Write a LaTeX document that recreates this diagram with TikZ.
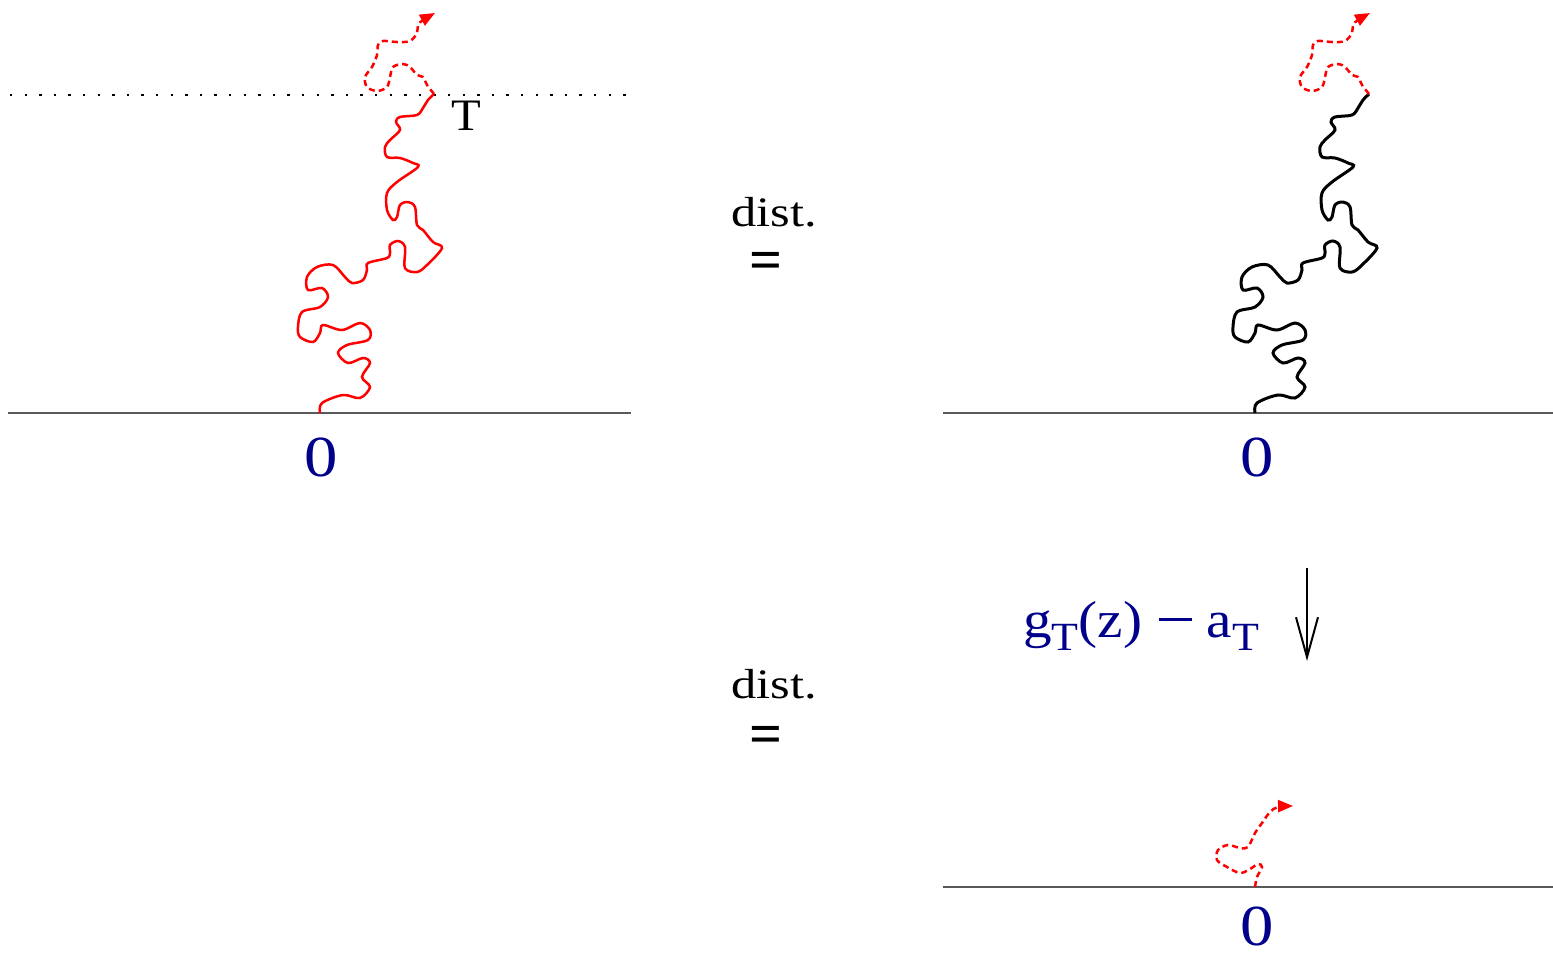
\documentclass[tikz,border=0pt]{standalone}
\usepackage{fontspec}
\setmainfont{Liberation Serif}
\usetikzlibrary{arrows.meta}
\definecolor{zeroblue}{RGB}{0,0,139}
\newcommand{\subT}{\raisebox{-0.25em}{\fontsize{20}{20}\selectfont T}}
\newcommand{\minussign}{\hspace{0.3em}\rule[0.3em]{0.58em}{0.06em}\hspace{0.25em}}

\begin{document}
\begin{tikzpicture}[
  x=0.5pt, y=-0.5pt,
  axis/.style={draw=black!65, line width=1pt},
  level/.style={line width=1.2pt, dash pattern=on 1.2pt off 6.1pt},
  walkred/.style={red, line width=1.25pt},
  walkblack/.style={black, line width=1.5pt},
  future/.style={red, line width=1.25pt, dash pattern=on 3pt off 2pt,
    -{Triangle[length=7.5pt,width=6pt]}},
  zerolbl/.style={text=zeroblue, font=\fontsize{29}{29}\selectfont, xscale=1.15, inner sep=0pt, anchor=base},
  distlbl/.style={font=\fontsize{21}{21}\selectfont, xscale=1.2, inner sep=0pt, anchor=base},
  eqlbl/.style={font=\fontsize{29}{29}\selectfont\bfseries, inner sep=0pt},
  maplbl/.style={text=zeroblue, font=\fontsize{26}{26}\selectfont, xscale=1.1, inner sep=0pt, anchor=base},
  arr/.style={-{Straight Barb[length=20pt,width=11pt]}, line width=1pt}
]
\useasboundingbox (0,0) rectangle (1553,953);

% half planes
\draw[axis] (8,413) -- (631,413);
\draw[axis] (943,413) -- (1553,413);
\draw[axis] (943,887) -- (1553,887);
\draw[level] (10,95) -- (631,95);

% the trace, left in red and right in black
\foreach \dx/\wstyle in {0/walkred, 935/walkblack}{
  \begin{scope}[xshift=\dx*0.5pt]
    \draw[\wstyle] plot[smooth, tension=0.55] coordinates {
      (320,413) (322,403) (343,395) (360,398) (370,387) (362,377) (370,363)
      (363,358) (348,363) (338,353) (347,345) (368,340) (370,330) (360,323)
      (342,330) (323,325) (320,333) (313,342) (300,337) (298,327) (302,312)
      (320,307) (328,297) (322,288) (308,290) (307,277) (317,267) (333,265)
      (345,277) (352,283) (363,280) (367,270) (368,263) (387,258) (390,253)
      (390,245) (398,241) (405,247) (405,268) (417,272) (427,265) (442,248)
      (433,242) (423,230) (417,225) (415,207) (408,202) (400,205) (397,217)
      (393,220) (387,210) (387,193) (397,182) (418,167) (413,163) (400,158)
      (387,157) (385,147) (390,140) (400,130) (396,122) (400,117) (417,115)
      (423,108) (428,100) (434,94)};
    \draw[future] plot[smooth, tension=0.55] coordinates {
      (434,94) (427,85) (423,77) (417,75) (410,67) (403,64) (393,67) (390,77)
      (387,87) (377,91) (367,87) (365,77) (372,67) (377,55) (378,45) (383,41)
      (397,42) (410,41) (417,33) (418,25) (423,20) (435,13)};
  \end{scope}
}

% mapped trace
\draw[future] plot[smooth, tension=0.55] coordinates {
  (1255,887) (1257,877) (1262,867) (1258,864) (1250,869) (1240,873) (1227,867)
  (1217,860) (1218,850) (1228,845) (1240,848) (1248,847) (1255,833) (1262,823)
  (1270,812) (1278,807) (1293,806)};

% labels
\node[zerolbl] (zeroleft) at (321,476) {0};
\node[zerolbl] (zeroright) at (1257,476) {0};
\node[zerolbl] (zeromap) at (1257,945) {0};
\node[font=\fontsize{22.5}{22.5}\selectfont, xscale=1.08, inner sep=0pt, anchor=base] (time) at (466,130) {T};
\node[distlbl] (distup) at (774,226) {dist.};
\node[eqlbl] (equp) at (766,266) {=};
\node[distlbl] (distdown) at (774,698) {dist.};
\node[eqlbl] (eqdown) at (766,740) {=};
\node[maplbl] (map) at (1141,637) {g\subT(z)\minussign a\subT};

% the conformal map
\coordinate (maptop) at (1307,568);
\coordinate (mapbot) at (1307,661);
\draw[arr] (maptop) -- (mapbot);
\end{tikzpicture}
\end{document}
